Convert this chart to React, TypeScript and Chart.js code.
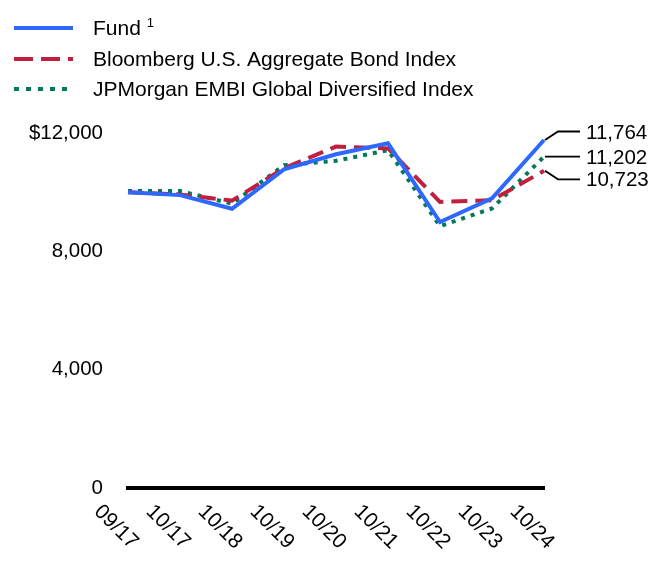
import React, { useEffect, useRef } from "react";
import { Chart, registerables } from "chart.js";

Chart.register(...registerables);

const categories = ["09/17", "10/17", "10/18", "10/19", "10/20", "10/21", "10/22", "10/23", "10/24"];
const fundValues = [10000, 9900, 9440, 10770, 11280, 11650, 8990, 9790, 11764];
const bloombergValues = [10000, 9920, 9715, 10810, 11540, 11480, 9670, 9730, 10723];
const jpmValues = [10040, 10040, 9610, 10910, 11060, 11420, 8850, 9450, 11202];
const seriesNames = ["Fund", "Bloomberg U.S. Aggregate Bond Index", "JPMorgan EMBI Global Diversified Index"];
const endLabels = ["11,764", "10,723", "11,202"];
const yTickValues = [0, 4000, 8000, 12000];
const yTickLabels = ["0", "4,000", "8,000", "$12,000"];

const FONT = "'Liberation Sans', Arial, sans-serif";
const BLUE = "rgb(46,104,255)";
const RED = "rgb(192,31,61)";
const GREEN = "rgb(0,120,90)";
const colors = [BLUE, RED, GREEN];
const dashes: number[][] = [[], [16, 8], [4, 6]];
const legendDashes: number[][] = [[], [19, 8], [5, 7]];

const overlayPlugin = {
  id: "overlay",
  afterDraw(chart: any) {
    const ctx = chart.ctx as CanvasRenderingContext2D;
    ctx.save();
    // Legend
    const legendY = [28, 59, 89];
    for (let i = 0; i < 3; i++) {
      ctx.beginPath();
      ctx.strokeStyle = colors[i];
      ctx.lineWidth = 4;
      ctx.setLineDash(legendDashes[i]);
      ctx.moveTo(14, legendY[i]);
      ctx.lineTo(73, legendY[i]);
      ctx.stroke();
      ctx.setLineDash([]);
      ctx.fillStyle = "#000";
      ctx.font = `21px ${FONT}`;
      ctx.textAlign = "left";
      ctx.textBaseline = "middle";
      ctx.fillText(seriesNames[i], 93, legendY[i] + 1);
      if (i === 0) {
        const w = ctx.measureText(seriesNames[i]).width;
        ctx.font = `13px ${FONT}`;
        ctx.fillText("1", 93 + w + 6, legendY[i] - 5);
      }
    }

    // Rotated x labels
    const xScale = chart.scales.x;
    ctx.font = `21px ${FONT}`;
    ctx.fillStyle = "#000";
    ctx.textAlign = "center";
    ctx.textBaseline = "middle";
    categories.forEach((lab, i) => {
      const x = xScale.getPixelForTick(i);
      ctx.save();
      ctx.translate(x - 12, chart.chartArea.bottom + 39);
      ctx.rotate(Math.PI / 4);
      ctx.fillText(lab, 0, 0);
      ctx.restore();
    });

    // End-point annotations
    const offsets = [-8.5, 8.5, 0];
    ctx.strokeStyle = "#000";
    ctx.lineWidth = 1.8;
    ctx.font = `20.5px ${FONT}`;
    ctx.textAlign = "left";
    ctx.textBaseline = "middle";
    for (let i = 0; i < 3; i++) {
      const meta = chart.getDatasetMeta(i);
      const pt = meta.data[meta.data.length - 1];
      const x0 = pt.x + 1;
      const y0 = pt.y;
      const ly = y0 + offsets[i];
      ctx.beginPath();
      ctx.moveTo(x0, y0);
      ctx.lineTo(x0 + 13, ly);
      ctx.lineTo(x0 + 35, ly);
      ctx.stroke();
      ctx.fillText(endLabels[i], x0 + 41, ly + 1.5);
    }
    ctx.restore();
  },
};

export default function App() {
  const canvasRef = useRef<HTMLCanvasElement | null>(null);

  useEffect(() => {
    if (!canvasRef.current) return;
    const values = [fundValues, bloombergValues, jpmValues];
    const chart = new Chart(canvasRef.current, {
      type: "line",
      data: {
        labels: categories,
        datasets: values.map((v, i) => ({
          label: seriesNames[i],
          data: v,
          borderColor: colors[i],
          backgroundColor: colors[i],
          borderWidth: 4,
          borderDash: dashes[i],
          pointRadius: 0,
          tension: 0,
          fill: false,
        })),
      },
      options: {
        animation: false,
        responsive: true,
        maintainAspectRatio: false,
        layout: { padding: { top: 133, right: 128, bottom: 100, left: 0 } },
        plugins: {
          legend: { display: false },
          tooltip: { enabled: false },
        },
        scales: {
          x: {
            type: "category",
            offset: false,
            grid: { display: false, drawTicks: false },
            border: { display: true, color: "#000", width: 4 },
            ticks: { display: false },
            afterFit: (scale: any) => {
              scale.height = 0;
            },
          },
          y: {
            min: 0,
            max: 12000,
            afterBuildTicks: (scale: any) => {
              scale.ticks = yTickValues.map((v) => ({ value: v }));
            },
            grid: { display: false, drawTicks: false },
            border: { display: false },
            ticks: {
              padding: 25,
              color: "#000",
              font: { size: 20.5, family: FONT },
              callback: (v: any) => {
                const idx = yTickValues.indexOf(Number(v));
                return idx >= 0 ? yTickLabels[idx] : "";
              },
            },
            afterFit: (scale: any) => {
              scale.width = 128;
            },
          },
        },
      },
      plugins: [overlayPlugin],
    });
    return () => chart.destroy();
  }, []);

  return (
    <div style={{ position: "absolute", left: 0, top: 0, width: 672, height: 588 }}>
      <canvas ref={canvasRef} />
    </div>
  );
}
